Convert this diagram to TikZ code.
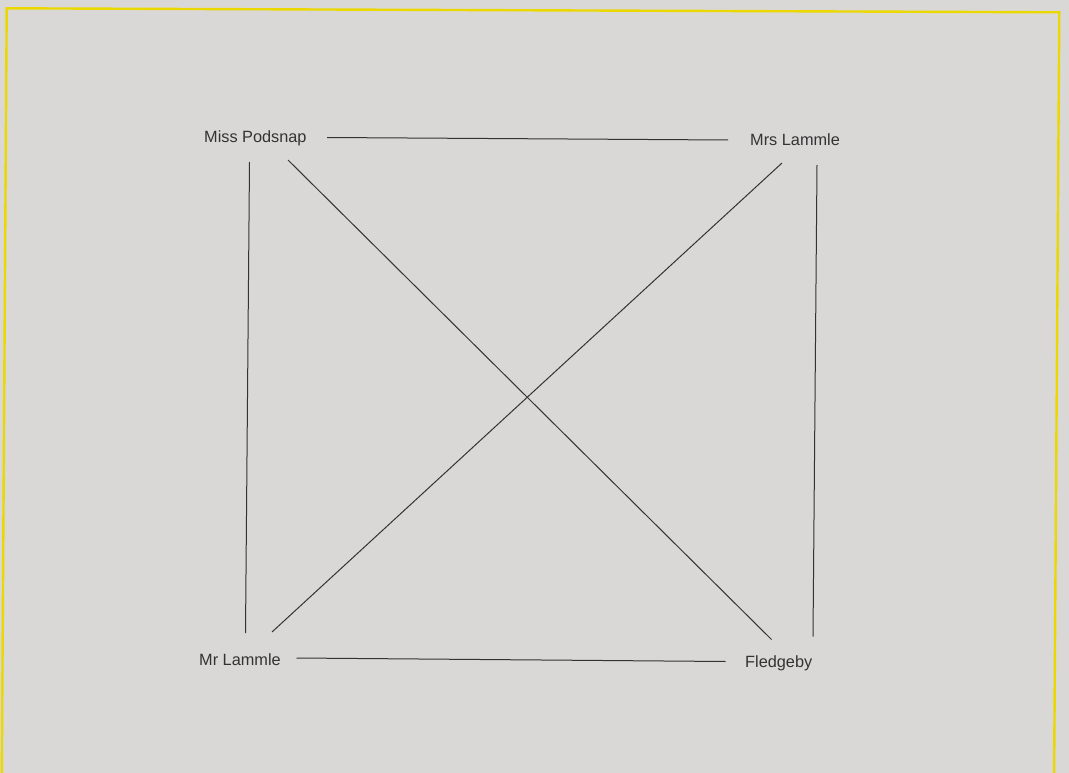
\documentclass[tikz,border=0pt]{standalone}
\usepackage{fontspec}
\setmainfont{Liberation Sans}
\definecolor{paper}{HTML}{D9D8D6}
\definecolor{ink}{HTML}{333335}
\definecolor{frameyellow}{HTML}{EAD800}
\begin{document}
\begin{tikzpicture}[x=1pt,y=-1pt,
  person/.style={inner sep=0pt, anchor=base west, text=ink,
    font=\fontsize{16.3}{19}\selectfont},
  link/.style={draw=ink, line width=1pt}]
\useasboundingbox (0,0) rectangle (1069,773);
\fill[paper] (0,0) rectangle (1069,773);
\begin{scope}
\clip (0,0) rectangle (1069,773);
\draw[frameyellow, line width=2.4pt] (1.7,790) -- (6.7,8.3) -- (1059.3,12.3) -- (1054,790);
\end{scope}
\node[person] (mp) at (204,143) {Miss Podsnap};
\node[person] (ms) at (750,146) {Mrs Lammle};
\node[person] (mr) at (199,665) {Mr Lammle};
\node[person] (fl) at (745,667) {Fledgeby};
% top
\draw[link] ([shift={(123,-5.5)}]mp.base west) -- ([shift={(-22,-6)}]ms.base west);
% left vertical
\draw[link] ([shift={(45.5,19)}]mp.base west) -- ([shift={(46.5,-32)}]mr.base west);
% diagonal Miss Podsnap - Fledgeby
\draw[link] ([shift={(84,17)}]mp.base west) -- ([shift={(26.5,-27.5)}]fl.base west);
% diagonal Mrs Lammle - Mr Lammle
\draw[link] ([shift={(32,17)}]ms.base west) -- ([shift={(73,-33)}]mr.base west);
% right vertical
\draw[link] ([shift={(67,19)}]ms.base west) -- ([shift={(68,-30.5)}]fl.base west);
% bottom
\draw[link] ([shift={(97.5,-7)}]mr.base west) -- ([shift={(-19.5,-5.5)}]fl.base west);
\end{tikzpicture}
\end{document}
